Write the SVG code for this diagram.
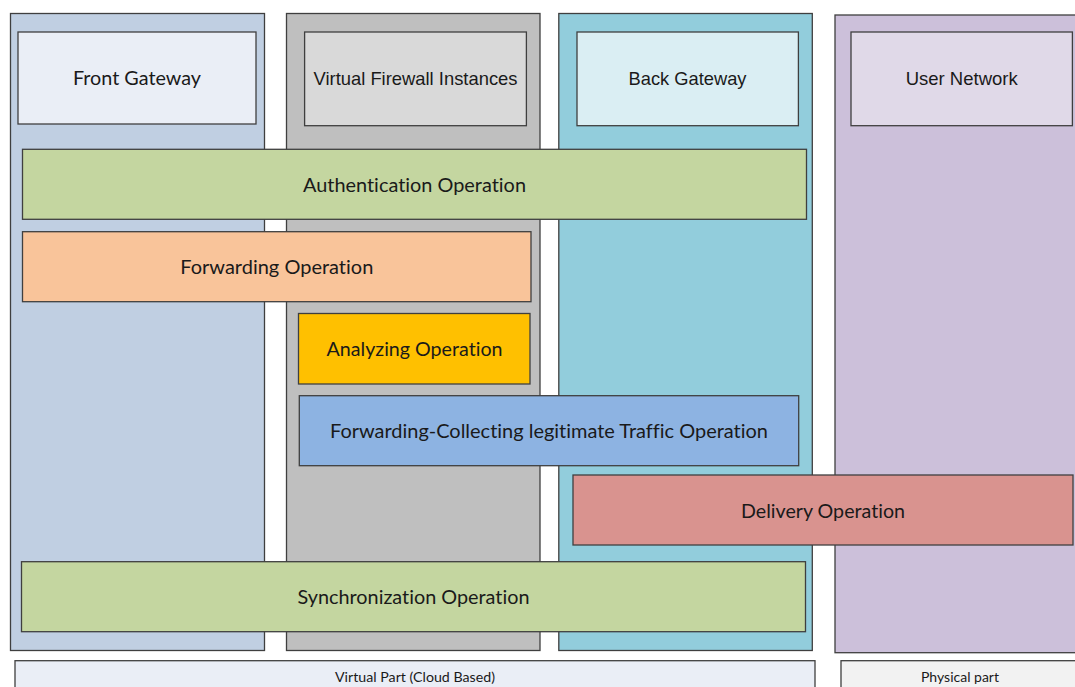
<svg xmlns="http://www.w3.org/2000/svg" width="1075" height="687" viewBox="0 0 1075 687">
<style>
  rect { stroke: #3f3f3f; stroke-width: 1.3; }
  rect.bg { stroke: none; }
  text { font-variant-ligatures: none; font-feature-settings: "liga" 0, "clig" 0; }
  .cal { font-family: Lato, "Open Sans", "DejaVu Sans", sans-serif; fill: #1a1a1a; text-anchor: middle; }
  .ari { font-family: "Liberation Sans", Arial, sans-serif; fill: #1a1a1a; text-anchor: middle; font-size: 18.4px; }
  .op { font-size: 19.5px; }
  .sm { font-size: 13px; }
</style>
<rect class="bg" width="1075" height="687" fill="#ffffff"/>
<g id="lanes">
  <g id="lane-front"><rect x="10.5" y="13.5" width="254" height="637" fill="#c0cfe2"/></g>
  <g id="lane-firewall"><rect x="286.5" y="13.5" width="253.5" height="637" fill="#bfbfbf"/></g>
  <g id="lane-back"><rect x="558.8" y="13.5" width="253.5" height="637" fill="#92cddc"/></g>
  <g id="lane-user"><rect x="835" y="15" width="250" height="637.7" fill="#ccc0da"/></g>
</g>
<g id="headers">
  <g id="front-gateway">
    <rect x="18" y="32" width="238" height="92" fill="#eaeef6"/>
    <text class="cal" x="137" y="85" font-size="19.5px" textLength="128" lengthAdjust="spacingAndGlyphs">Front Gateway</text>
  </g>
  <g id="virtual-firewall">
    <rect x="304.6" y="32" width="221.8" height="93.7" fill="#d9d9d9"/>
    <text class="ari" x="415.5" y="85" textLength="204" lengthAdjust="spacingAndGlyphs">Virtual Firewall Instances</text>
  </g>
  <g id="back-gateway">
    <rect x="577" y="32" width="221.4" height="93.7" fill="#daeef3"/>
    <text class="ari" x="687.5" y="85" textLength="118" lengthAdjust="spacingAndGlyphs">Back Gateway</text>
  </g>
  <g id="user-network">
    <rect x="851" y="32" width="221.4" height="93.7" fill="#e0d9e8"/>
    <text class="ari" x="961.7" y="85" textLength="112" lengthAdjust="spacingAndGlyphs">User Network</text>
  </g>
</g>
<g id="connectors"></g>
<g id="operations">
  <g id="authentication">
    <rect x="22.5" y="149.3" width="784" height="70" fill="#c4d6a0"/>
    <text class="cal op" x="414.5" y="191.7" textLength="223" lengthAdjust="spacingAndGlyphs">Authentication Operation</text>
  </g>
  <g id="forwarding">
    <rect x="22.5" y="231.7" width="508.5" height="70" fill="#f9c49a"/>
    <text class="cal op" x="276.8" y="274" textLength="193" lengthAdjust="spacingAndGlyphs">Forwarding Operation</text>
  </g>
  <g id="analyzing">
    <rect x="298.5" y="313.5" width="231.5" height="70.5" fill="#ffc000"/>
    <text class="cal op" x="414.5" y="356" textLength="176" lengthAdjust="spacingAndGlyphs">Analyzing Operation</text>
  </g>
  <g id="forwarding-collecting">
    <rect x="299.3" y="395.7" width="499.4" height="70" fill="#8db3e2"/>
    <text class="cal op" x="549" y="438" textLength="438" lengthAdjust="spacingAndGlyphs">Forwarding-Collecting legitimate Traffic Operation</text>
  </g>
  <g id="delivery">
    <rect x="573" y="475" width="500" height="70" fill="#d9938f"/>
    <text class="cal op" x="823" y="517.5" textLength="164" lengthAdjust="spacingAndGlyphs">Delivery Operation</text>
  </g>
  <g id="synchronization">
    <rect x="21.5" y="561.7" width="784" height="70" fill="#c4d6a0"/>
    <text class="cal op" x="413.5" y="604" textLength="232" lengthAdjust="spacingAndGlyphs">Synchronization Operation</text>
  </g>
</g>
<g id="parts">
  <g id="virtual-part">
    <rect x="15" y="660.7" width="800" height="40" fill="#eaeef6"/>
    <text class="cal sm" x="415" y="681.5" textLength="160" lengthAdjust="spacingAndGlyphs">Virtual Part (Cloud Based)</text>
  </g>
  <g id="physical-part">
    <rect x="841" y="660.7" width="245" height="40" fill="#f2f2f2"/>
    <text class="cal sm" x="960" y="681.5" textLength="78" lengthAdjust="spacingAndGlyphs">Physical part</text>
  </g>
</g>
</svg>
